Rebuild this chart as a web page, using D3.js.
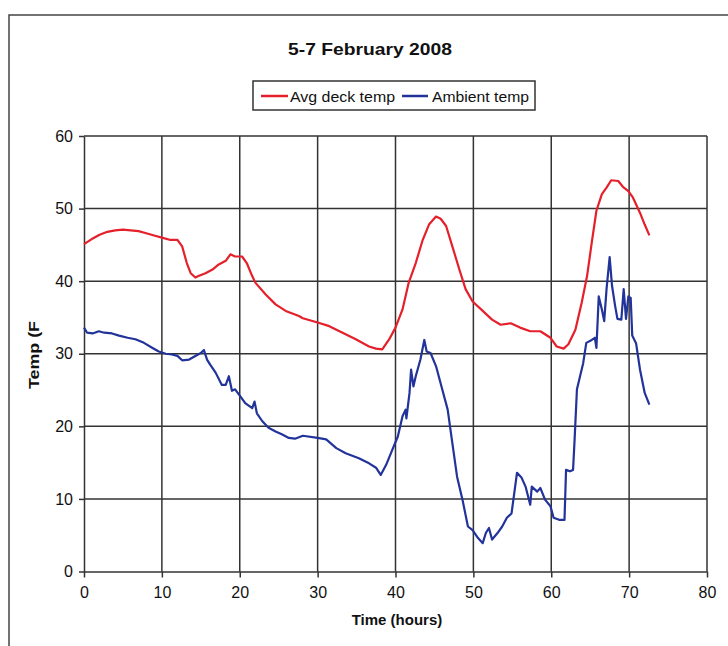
<!DOCTYPE html>
<html>
<head>
<meta charset="utf-8">
<script src="https://cdn.jsdelivr.net/npm/d3@7"></script>
<style>
  html, body { margin: 0; padding: 0; background: #fff; }
  svg { display: block; }
  text { font-family: "Liberation Sans", Arial, sans-serif; fill: #111; }
</style>
</head>
<body>
<svg id="chart" width="728" height="646"></svg>
<script>
// ---- data ----
const title = "5-7 February 2008";
const seriesNames = ["Avg deck temp", "Ambient temp"];
const xTicks = [0, 10, 20, 30, 40, 50, 60, 70, 80];
const yTicks = [0, 10, 20, 30, 40, 50, 60];

const deckTime = [0,1,2,3,4,5,6,7,8,9,10,11,12,12.6,13.2,13.7,14.3,14.7,15.6,16.5,17.3,18.2,18.8,19.4,20.3,20.9,21.6,22.0,23.3,24.6,25.9,27.6,28.1,30,31.5,33.2,34.9,36.6,37.5,38.3,39.2,40,40.9,41.7,42.6,43.5,44.3,45.2,45.8,46.5,47.3,48.2,49.0,49.9,51.2,52.4,53.5,54.8,56.0,57.3,58.6,59.9,60.7,61.6,62.2,63.1,63.9,64.6,65.2,65.8,66.5,67.1,67.7,68.6,69.2,69.9,70.5,71.4,72.0,72.6];
const deckTemp = [45.1,45.8,46.4,46.8,47.0,47.1,47.0,46.9,46.6,46.3,46.0,45.7,45.7,44.8,42.5,41.1,40.5,40.7,41.1,41.6,42.3,42.8,43.7,43.4,43.4,42.5,40.7,39.8,38.2,36.8,35.9,35.2,34.9,34.3,33.8,32.9,32.0,31.0,30.7,30.6,32.0,33.6,36.1,39.8,42.5,45.7,47.8,48.9,48.6,47.6,44.8,41.6,38.9,37.2,35.9,34.7,34.0,34.2,33.6,33.1,33.1,32.2,31.0,30.7,31.3,33.3,37.0,40.7,45.3,49.7,52.0,52.9,53.9,53.8,53.0,52.4,51.5,49.4,47.8,46.3];

const ambientTime = [0,0.4,1.1,1.9,2.6,3.6,4.5,5.6,6.6,7.7,8.8,9.6,10.5,11.3,12.0,12.6,13.5,14.3,15.0,15.4,15.8,16.2,16.9,17.7,18.2,18.6,19.0,19.4,20.1,20.7,21.6,21.9,22.2,22.9,23.7,24.6,25.4,26.3,27.1,28.1,30,31.1,32.4,33.6,35.3,36.6,37.5,38.1,38.8,39.6,40.3,40.9,41.3,41.4,41.8,42.0,42.3,42.6,43.2,43.7,44.0,44.5,45.2,46.0,46.7,47.3,47.9,48.6,49.3,49.9,50.6,51.2,51.6,52.0,52.4,53.1,53.7,54.3,54.9,55.6,56.2,56.7,57.3,57.5,58.2,58.6,59.2,59.9,60.3,61.1,61.7,61.9,62.4,62.8,63.0,63.3,63.7,64.1,64.5,65.2,65.6,65.8,66.1,66.5,66.8,67.1,67.5,67.8,68.2,68.5,69.0,69.3,69.6,69.9,70.2,70.4,70.9,71.4,72.0,72.6];
const ambientTemp = [33.6,32.9,32.8,33.1,32.9,32.8,32.5,32.2,32.0,31.5,30.8,30.3,30.0,29.9,29.7,29.1,29.2,29.7,30.1,30.5,29.2,28.5,27.4,25.7,25.7,26.9,24.9,25.1,24.1,23.2,22.5,23.4,21.8,20.7,19.8,19.3,18.9,18.4,18.3,18.7,18.4,18.2,17.0,16.3,15.6,14.9,14.3,13.3,14.7,16.8,18.6,21.4,22.3,21.1,24.6,27.8,25.5,26.9,29.2,31.9,30.3,30.1,28.3,25.1,22.3,17.7,13.1,9.9,6.2,5.7,4.6,3.9,5.3,6.0,4.4,5.3,6.2,7.4,8.0,13.6,12.9,11.7,9.2,11.7,11.0,11.5,9.9,9.0,7.4,7.1,7.1,14.0,13.8,14.0,18.2,25.1,26.9,28.7,31.5,31.9,32.2,30.8,37.9,36.1,34.5,38.9,43.3,39.4,36.6,34.8,34.7,38.9,34.8,37.9,37.7,32.5,31.4,27.8,24.6,23.0];

const colors = ["#e5202b", "#22339a"];

// ---- layout ----
const svg = d3.select("#chart");
const plotL = 84, plotR = 707, plotT = 136, plotB = 571.5;

const x = d3.scaleLinear().domain([0, 80]).range([plotL, plotR]);
const y = d3.scaleLinear().domain([0, 60]).range([plotB, plotT]);

// outer frame (only left and top visible)
svg.append("rect")
  .attr("x", 9).attr("y", 15).attr("width", 760).attr("height", 700)
  .attr("fill", "#fff").attr("stroke", "#444").attr("stroke-width", 1.5);

// gridlines
const grid = svg.append("g").attr("stroke", "#333").attr("stroke-width", 1.5);
xTicks.filter(d => d > 0).forEach(d => {
  grid.append("line").attr("x1", x(d)).attr("x2", x(d)).attr("y1", y(0)).attr("y2", y(60));
});
yTicks.filter(d => d > 0).forEach(d => {
  grid.append("line").attr("x1", x(0)).attr("x2", x(80)).attr("y1", y(d)).attr("y2", y(d));
});

// axes
const yAxis = svg.append("g")
  .attr("transform", `translate(${plotL},0)`)
  .call(d3.axisLeft(y).tickValues(yTicks).tickSize(5).tickSizeOuter(0).tickPadding(6));
const xAxis = svg.append("g")
  .attr("transform", `translate(0,${plotB})`)
  .call(d3.axisBottom(x).tickValues(xTicks).tickSize(6).tickSizeOuter(0).tickPadding(9));
[yAxis, xAxis].forEach(g => {
  g.select(".domain").attr("stroke", "#333").attr("stroke-width", 1.5);
  g.selectAll(".tick line").attr("stroke", "#333").attr("stroke-width", 1.5);
  g.selectAll(".tick text")
    .style("font-family", '"Liberation Sans", Arial, sans-serif')
    .style("font-size", "16px").attr("fill", "#111");
});

// lines
const line = d3.line().x(d => x(d[0])).y(d => y(d[1]));
const deck = deckTime.map((t, i) => [t, deckTemp[i]]);
const amb = ambientTime.map((t, i) => [t, ambientTemp[i]]);
[[deck, colors[0]], [amb, colors[1]]].forEach(([data, c]) => {
  svg.append("path").datum(data)
    .attr("fill", "none").attr("stroke", c).attr("stroke-width", 2.2)
    .attr("stroke-linejoin", "round").attr("d", line);
});

// title
svg.append("text").attr("x", 370).attr("y", 55).attr("text-anchor", "middle")
  .attr("textLength", 164).attr("lengthAdjust", "spacingAndGlyphs")
  .style("font-size", "17px").style("font-weight", "bold").text(title);

// legend
const lg = svg.append("g");
lg.append("rect").attr("x", 253).attr("y", 81).attr("width", 282).attr("height", 29)
  .attr("fill", "#fff").attr("stroke", "#333").attr("stroke-width", 1.5);
const legendItems = [
  { name: seriesNames[0], c: colors[0], x1: 261, x2: 288, tx: 290, w: 105 },
  { name: seriesNames[1], c: colors[1], x1: 402, x2: 428, tx: 432, w: 97 }
];
legendItems.forEach(it => {
  lg.append("line").attr("x1", it.x1).attr("x2", it.x2).attr("y1", 96).attr("y2", 96)
    .attr("stroke", it.c).attr("stroke-width", 2.5);
  lg.append("text").attr("x", it.tx).attr("y", 101.5)
    .attr("textLength", it.w).attr("lengthAdjust", "spacingAndGlyphs")
    .style("font-size", "15px").text(it.name);
});

// axis titles
svg.append("text").attr("transform", "translate(39,355) rotate(-90)")
  .attr("text-anchor", "middle").attr("textLength", 68).attr("lengthAdjust", "spacingAndGlyphs")
  .style("font-size", "15px").style("font-weight", "bold")
  .text("Temp (F");
svg.append("text").attr("x", 397).attr("y", 625).attr("text-anchor", "middle")
  .style("font-size", "15px").style("font-weight", "bold").text("Time (hours)");
</script>
</body>
</html>
